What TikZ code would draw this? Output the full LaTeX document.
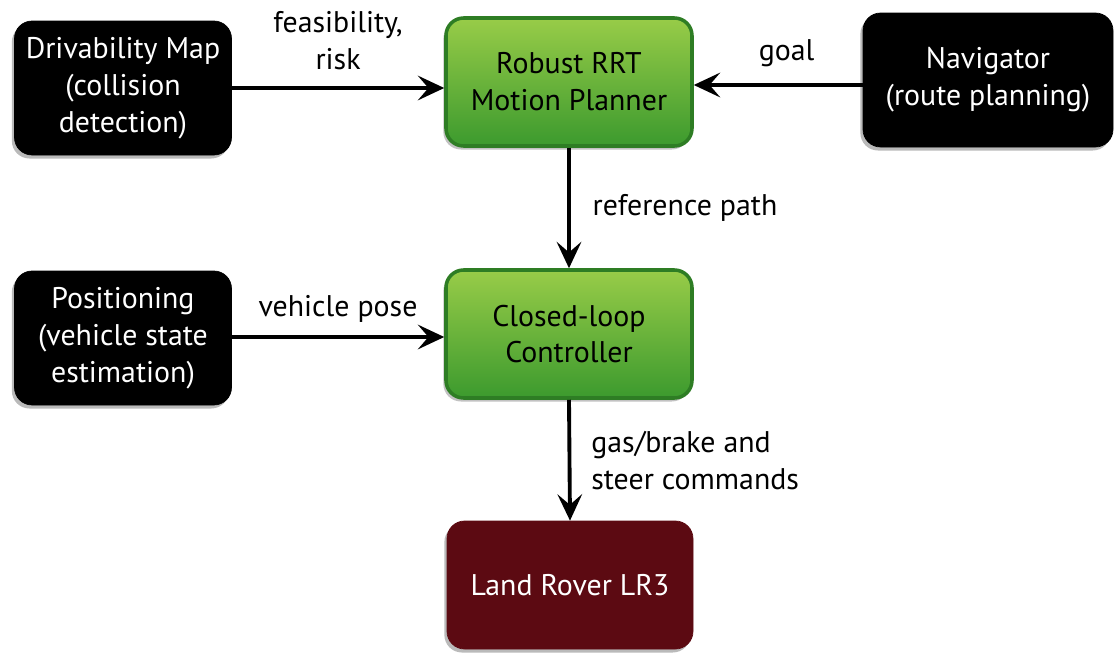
\documentclass[tikz,border=0pt]{standalone}
\usepackage{fontspec}
\setmainfont{PT Sans}
\usetikzlibrary{arrows.meta,shadows}
\definecolor{boxgreenT}{HTML}{98CC48}
\definecolor{boxgreenB}{HTML}{3C9A2E}
\definecolor{boxgreenD}{HTML}{2E7D24}
\definecolor{roverred}{HTML}{5C0A12}
\begin{document}
\begin{tikzpicture}[x=0.02cm,y=-0.02cm,
  every node/.style={font=\fontsize{17}{21}\selectfont},
  blackbox/.style={draw=black,fill=black,text=white,rounded corners=10pt,minimum width=217*0.02cm,minimum height=134*0.02cm,align=center,
     drop shadow={shadow xshift=-1.5pt,shadow yshift=-2pt,opacity=0.45,fill=black!60}},
  greenbox/.style={draw=boxgreenD,line width=2pt,top color=boxgreenT,bottom color=boxgreenB,rounded corners=10pt,minimum width=246*0.02cm,minimum height=128*0.02cm,align=center,
     drop shadow={shadow xshift=-1.5pt,shadow yshift=-2pt,opacity=0.4,fill=black!60}},
  redbox/.style={draw=roverred,fill=roverred,text=white,rounded corners=10pt,minimum width=246*0.02cm,minimum height=128*0.02cm,align=center,
     drop shadow={shadow xshift=-1.5pt,shadow yshift=-2pt,opacity=0.45,fill=black!60}},
  conn/.style={line width=2.2pt,-{Stealth[length=15pt,width=14pt,inset=6pt]}},
  lbl/.style={font=\fontsize{17}{21}\selectfont,align=center}
]
\useasboundingbox (0,0) rectangle (1117,663);

\node[blackbox] (drive) at (123,88) {Drivability Map\\(collision\\detection)};
\node[greenbox] (rrt) at (569,82) {Robust RRT\\Motion Planner};
\node[blackbox,minimum width=250*0.02cm] (nav) at (988,80) {Navigator\\(route planning)};
\node[blackbox] (pos) at (123,338) {Positioning\\(vehicle state\\estimation)};
\node[greenbox] (ctrl) at (569,334) {Closed-loop\\Controller};
\node[redbox] (rover) at (570,585) {Land Rover LR3};

\draw[conn] (drive.east |- 0,88) -- (rrt.west |- 0,88) node[lbl,midway,above=6pt] {feasibility,\\risk};
\draw[conn] (nav.west |- 0,85) -- (rrt.east |- 0,85) node[lbl,pos=0.45,above=6pt] {goal};
\draw[conn] (rrt.south) -- (ctrl.north) node[lbl,midway,right=9pt] {reference path};
\draw[conn] (pos.east |- 0,337) -- (ctrl.west |- 0,337) node[lbl,midway,above=4pt] {vehicle pose};
\draw[conn] (ctrl.south) -- (rover.north) node[lbl,midway,right=8pt,align=left] {gas/brake and\\steer commands};
\end{tikzpicture}
\end{document}
